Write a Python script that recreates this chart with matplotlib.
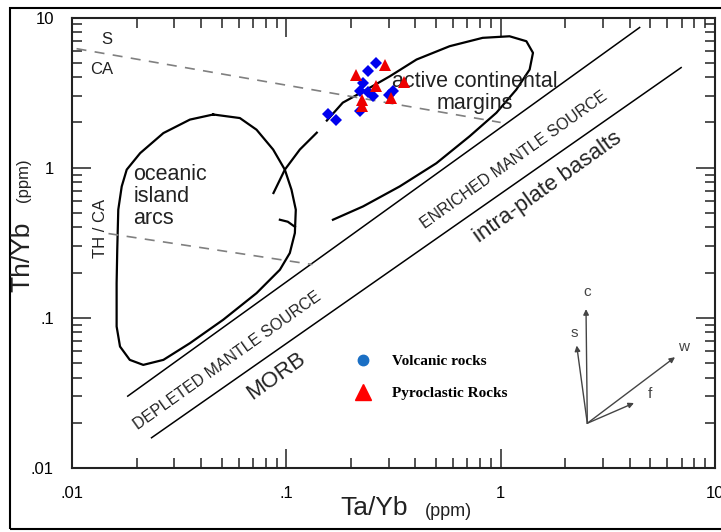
import matplotlib
matplotlib.use('Agg')
import matplotlib.pyplot as plt
from matplotlib.lines import Line2D
from matplotlib.patches import Rectangle
from matplotlib.ticker import FixedLocator, FixedFormatter, LogLocator, NullFormatter

plt.rcParams['font.family'] = ['Liberation Sans', 'DejaVu Sans']

# samples (Ta/Yb, Th/Yb)
volcanic_ta = [0.157, 0.170, 0.261, 0.241, 0.228, 0.220, 0.241, 0.254, 0.220, 0.315, 0.301]
volcanic_th = [2.26, 2.07, 4.94, 4.39, 3.67, 3.23, 3.18, 2.99, 2.37, 3.23, 3.07]
pyro_ta = [0.288, 0.212, 0.261, 0.354, 0.226, 0.307, 0.225]
pyro_th = [4.86, 4.17, 3.52, 3.70, 2.81, 2.92, 2.59]

# oceanic island arcs field
arc_x = [0.0456, 0.0355, 0.0267, 0.0208, 0.0180, 0.01706, 0.01644, 0.01626, 0.01615,
         0.01615, 0.01675, 0.0186, 0.0215, 0.0267, 0.0355, 0.0507, 0.0726, 0.0933,
         0.1038, 0.1096, 0.1107, 0.1057, 0.0984, 0.0868, 0.0726, 0.0607, 0.0456]
arc_y = [2.26, 2.09, 1.70, 1.25, 0.97, 0.75, 0.525, 0.284, 0.170,
         0.0876, 0.0644, 0.0525, 0.0486, 0.0525, 0.0678, 0.097, 0.146, 0.209,
         0.270, 0.367, 0.525, 0.713, 0.97, 1.32, 1.79, 2.14, 2.26]
hook_x = [0.0933, 0.1016, 0.1096]
hook_y = [0.450, 0.4365, 0.404]

# active continental margins field (two pieces)
acm1_x = [0.0871, 0.0984, 0.1156, 0.1387]
acm1_y = [0.678, 0.97, 1.32, 1.71]
acm2_x = [0.1545, 0.1834, 0.2366, 0.304, 0.405, 0.578, 0.824, 1.10, 1.318, 1.415,
          1.365, 1.183, 0.955, 0.717, 0.501, 0.338, 0.228, 0.165]
acm2_y = [2.06, 2.71, 3.31, 4.06, 5.25, 6.44, 7.32, 7.50, 6.95, 5.82,
          4.50, 3.31, 2.32, 1.62, 1.07, 0.75, 0.552, 0.45]

# mantle array
upper_x = [0.0182, 4.45]
upper_y = [0.0301, 8.58]
lower_x = [0.0235, 6.95]
lower_y = [0.0159, 4.64]

# dashed boundaries
sca_x = [0.0105, 1.0]
sca_y = [6.2, 2.0]
thca_x = [0.0148, 0.1323]
thca_y = [0.364, 0.2265]

tick_vals = [0.01, 0.1, 1, 10]
tick_labels = ['.01', '.1', '1', '10']

fig = plt.figure(figsize=(7.21, 5.32), dpi=100)
ax = fig.add_axes([0.09986, 0.1203, 0.89182, 0.8468])
ax.set_xscale('log')
ax.set_yscale('log')
ax.set_xlim(0.01, 10)
ax.set_ylim(0.01, 10)

ax.plot(arc_x, arc_y, color='black', lw=1.6)
ax.plot(hook_x, hook_y, color='black', lw=1.6)
ax.plot(acm1_x, acm1_y, color='black', lw=1.6)
ax.plot(acm2_x, acm2_y, color='black', lw=1.6)
ax.plot(upper_x, upper_y, color='black', lw=1.1)
ax.plot(lower_x, lower_y, color='black', lw=1.1)
ax.plot(sca_x, sca_y, color='#808080', lw=1.2, ls=(0, (6, 5)))
ax.plot(thca_x, thca_y, color='#808080', lw=1.2, ls=(0, (6, 5)))

ax.plot(volcanic_ta, volcanic_th, 'D', color='#0000ee', ms=6, mew=0, zorder=4)
ax.plot(pyro_ta, pyro_th, '^', color='#ee0000', ms=8, mew=0, zorder=5)

# field labels
txt = '#222222'
ax.text(0.01452, 7.14, 'S', fontsize=12, color=txt, ha='center', va='center')
ax.text(0.01375, 4.5, 'CA', fontsize=12, color=txt, ha='center', va='center')
ax.text(0.01351, 0.392, 'TH / CA', fontsize=12, color=txt, ha='center', va='center', rotation=90)
ax.text(0.0193, 0.641, 'oceanic\nisland\narcs', fontsize=15.5, color=txt, ha='left', va='center',
        linespacing=1.05)
ax.text(0.757, 3.15, 'active continental\nmargins', fontsize=15.5, color=txt, ha='center',
        va='center', linespacing=1.05)
ax.text(1.156, 1.117, 'ENRICHED MANTLE SOURCE', fontsize=11.5, color=txt, ha='center',
        va='center', rotation=35.5, rotation_mode='anchor')
ax.text(0.0531, 0.0521, 'DEPLETED MANTLE SOURCE', fontsize=11.5, color=txt, ha='center',
        va='center', rotation=35.5, rotation_mode='anchor')
ax.text(0.0893, 0.0407, 'MORB', fontsize=16, color=txt, ha='center', va='center',
        rotation=35.5, rotation_mode='anchor')
ax.text(1.662, 0.741, 'intra-plate basalts', fontsize=16, color=txt, ha='center', va='center',
        rotation=35.5, rotation_mode='anchor')

# process vectors
origin = (0.8014, 0.0993)
vectors = {'c': (0.7994, 0.3527), 's': (0.7849, 0.2718),
           'w': (0.9378, 0.2460), 'f': (0.8740, 0.1442)}
vec_labels = {'c': (0.8014, 0.3896), 's': (0.7812, 0.3007),
              'w': (0.9518, 0.2696), 'f': (0.8989, 0.1637)}
for k, tip in vectors.items():
    ax.annotate('', xy=tip, xytext=origin, xycoords='axes fraction',
                arrowprops=dict(arrowstyle='-|>', color='#444444', lw=1,
                                mutation_scale=8, shrinkA=0, shrinkB=0))
    ax.text(*vec_labels[k], k, transform=ax.transAxes, fontsize=11, color='#444444',
            ha='center', va='center')

# legend
handles = [Line2D([], [], marker='o', ls='none', color='#1a6fc4', ms=7.5, label='Volcanic rocks'),
           Line2D([], [], marker='^', ls='none', color='#ff0000', ms=11, label='Pyroclastic Rocks')]
ax.legend(handles=handles, loc='center left', bbox_to_anchor=(0.4407, 0.2011),
          frameon=False, borderpad=0, borderaxespad=0, handlelength=1.0,
          handletextpad=1.4, labelspacing=1.2,
          prop={'family': 'Liberation Serif', 'weight': 'bold', 'size': 11})

# ticks
for axis in (ax.xaxis, ax.yaxis):
    axis.set_major_locator(FixedLocator(tick_vals))
    axis.set_major_formatter(FixedFormatter(tick_labels))
    axis.set_minor_locator(LogLocator(base=10, subs=range(2, 10)))
    axis.set_minor_formatter(NullFormatter())
ax.tick_params(which='both', direction='in', top=True, right=True, width=1.1, color='#222222')
ax.tick_params(which='major', length=14, pad=13, labelsize=12)
ax.tick_params(which='minor', length=7)
for s in ax.spines.values():
    s.set_linewidth(1.5)
    s.set_color('#222222')

# axis titles
fig.text(374 / 721, 1 - 508 / 532, 'Ta/Yb', fontsize=19, ha='center', va='center', color=txt)
fig.text(448 / 721, 1 - 512 / 532, '(ppm)', fontsize=13, ha='center', va='center', color=txt)
fig.text(22 / 721, 1 - 257 / 532, 'Th/Yb', fontsize=19, ha='center', va='center', rotation=90,
         color=txt)
fig.text(24 / 721, 1 - 180 / 532, '(ppm)', fontsize=12, ha='center', va='center', rotation=90,
         color=txt)

# outer frame
fig.patches.append(Rectangle((10 / 721, 3 / 532), 1.2, 1 - 10.5 / 532, transform=fig.transFigure,
                             fill=False, lw=1.5, edgecolor='black'))

fig.savefig('out.png', dpi=100)
